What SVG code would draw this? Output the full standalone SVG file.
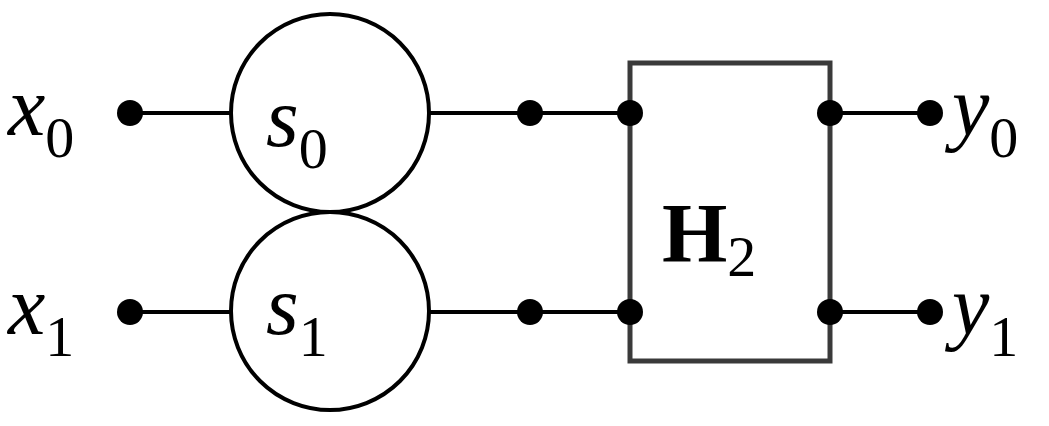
<svg xmlns="http://www.w3.org/2000/svg" width="1049" height="426" viewBox="0 0 1049 426">
<style>
.w{stroke:#000;stroke-width:4;fill:none}
.c{stroke:#000;stroke-width:4;fill:#fff}
.d{fill:#000}
.t{font-family:'Liberation Serif','Times New Roman','DejaVu Serif',serif;font-size:84px;fill:#000}
.i{font-style:italic}
.s{font-size:58px;font-style:normal;font-weight:normal}
</style>
<rect width="1049" height="426" fill="#fff"/>
<g id="connectors">
<line class="w" x1="130" y1="113" x2="232" y2="113"/>
<line class="w" x1="428" y1="113" x2="630" y2="113"/>
<line class="w" x1="130" y1="312" x2="232" y2="312"/>
<line class="w" x1="428" y1="312" x2="630" y2="312"/>
<line class="w" x1="830" y1="113" x2="930" y2="113"/>
<line class="w" x1="830" y1="312" x2="930" y2="312"/>
</g>
<g id="s0"><circle class="c" cx="330" cy="113" r="99"/><text class="t i" x="266" y="146">s<tspan class="s" dy="22">0</tspan></text></g>
<g id="s1"><circle class="c" cx="330" cy="311" r="99"/><text class="t i" x="266" y="334">s<tspan class="s" dy="22">1</tspan></text></g>
<g id="H2"><rect x="630" y="63" width="200" height="298" fill="none" stroke="#3a3a3a" stroke-width="5"/><text class="t" x="662" y="262" font-weight="bold">H<tspan class="s" dy="14">2</tspan></text></g>
<g id="dots">
<circle class="d" cx="130" cy="113" r="13"/><circle class="d" cx="530" cy="113" r="13"/><circle class="d" cx="630" cy="113" r="13"/><circle class="d" cx="830" cy="113" r="13"/><circle class="d" cx="930" cy="113" r="13"/>
<circle class="d" cx="130" cy="312" r="13"/><circle class="d" cx="530" cy="312" r="13"/><circle class="d" cx="630" cy="312" r="13"/><circle class="d" cx="830" cy="312" r="13"/><circle class="d" cx="930" cy="312" r="13"/>
</g>
<g id="labels">
<text class="t i" x="8" y="135">x<tspan class="s" dy="22">0</tspan></text>
<text class="t i" x="8" y="334">x<tspan class="s" dy="22">1</tspan></text>
<text class="t i" x="952" y="135">y<tspan class="s" dy="22">0</tspan></text>
<text class="t i" x="952" y="334">y<tspan class="s" dy="22">1</tspan></text>
</g>
</svg>
